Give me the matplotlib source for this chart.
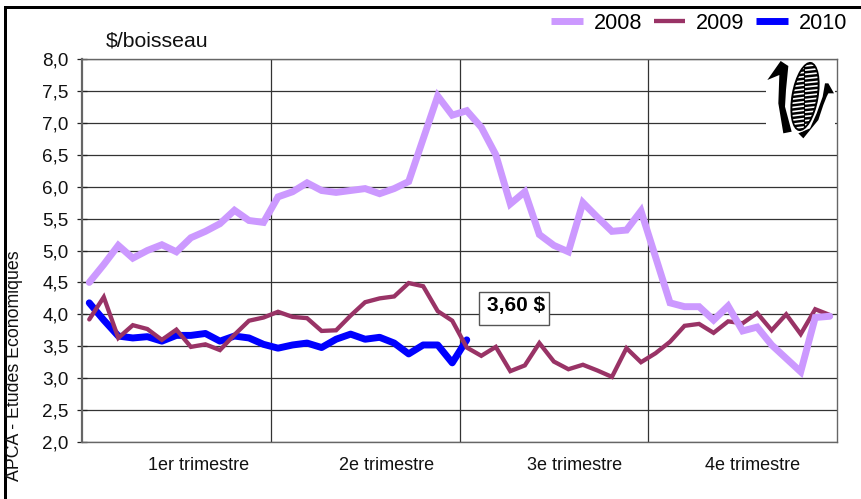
import numpy as np
import matplotlib
matplotlib.use('Agg')
import matplotlib.pyplot as plt
from matplotlib.patches import Ellipse, Polygon, Rectangle

plt.rcParams['font.family'] = ['Liberation Sans', 'DejaVu Sans']

# Weekly prices ($/boisseau)
prix_2008 = [4.50, 4.78, 5.08, 4.88, 5.00, 5.09, 4.98, 5.20, 5.30, 5.42, 5.63, 5.47, 5.44,
             5.84, 5.92, 6.06, 5.94, 5.91, 5.94, 5.97, 5.89, 5.97, 6.08, 6.75, 7.42, 7.12,
             7.19, 6.93, 6.50, 5.73, 5.92, 5.25, 5.08, 4.98, 5.75, 5.52, 5.30, 5.32, 5.62,
             4.90, 4.18, 4.12, 4.12, 3.91, 4.13, 3.74, 3.80, 3.52, 3.31, 3.10, 3.95, 3.97]
prix_2009 = [3.92, 4.27, 3.63, 3.83, 3.77, 3.60, 3.76, 3.49, 3.53, 3.44, 3.68, 3.90, 3.95,
             4.04, 3.96, 3.94, 3.74, 3.75, 3.98, 4.19, 4.25, 4.28, 4.49, 4.44, 4.05, 3.90,
             3.48, 3.35, 3.49, 3.11, 3.20, 3.55, 3.26, 3.14, 3.21, 3.12, 3.02, 3.47, 3.25,
             3.39, 3.57, 3.82, 3.85, 3.71, 3.89, 3.86, 4.02, 3.75, 4.00, 3.69, 4.08, 3.99]
prix_2010 = [4.18, 3.91, 3.66, 3.63, 3.65, 3.58, 3.67, 3.67, 3.70, 3.58, 3.66, 3.63, 3.53,
             3.47, 3.52, 3.55, 3.48, 3.61, 3.69, 3.61, 3.64, 3.55, 3.38, 3.52, 3.52, 3.24,
             3.60]
trimestres = ['1er trimestre', '2e trimestre', '3e trimestre', '4e trimestre']
pos_trimestres = [7.56, 20.45, 33.4, 45.7]
limites_trimestres = [12.5, 25.5, 38.5]
ticks_y = [2.0, 2.5, 3.0, 3.5, 4.0, 4.5, 5.0, 5.5, 6.0, 6.5, 7.0, 7.5, 8.0]

fig = plt.figure(figsize=(8.61, 4.99), dpi=100)
ax = fig.add_axes([82 / 861, (499 - 442) / 499, 755 / 861, 383 / 499])

ax.plot(np.arange(len(prix_2010)), prix_2010, color='#0000ff', lw=5.0, label='2010',
        solid_capstyle='round', solid_joinstyle='round', zorder=3)
ax.plot(np.arange(len(prix_2009)), prix_2009, color='#993366', lw=3.1, label='2009',
        solid_capstyle='round', solid_joinstyle='miter', zorder=4)
ax.plot(np.arange(len(prix_2008)), prix_2008, color='#cc99ff', lw=5.0, label='2008',
        solid_capstyle='round', solid_joinstyle='miter', zorder=5)

ax.set_xlim(-0.5, 51.5)
ax.set_ylim(2, 8)
ax.set_yticks(ticks_y)
ax.set_yticklabels([f'{v:.1f}'.replace('.', ',') for v in ticks_y], fontsize=13.6, color='#111111')
ax.tick_params(axis='y', direction='inout', length=7.5, width=0.9, color='#222222', pad=6)

ax.set_xticks(limites_trimestres)
ax.set_xticklabels([])
ax.tick_params(axis='x', length=0)
ax.set_xticks(pos_trimestres, labels=trimestres, minor=True)
ax.tick_params(axis='x', which='minor', length=0, labelsize=13, pad=10.5, labelcolor='#111111')

ax.grid(True, axis='both', which='major', color='#333333', lw=0.9, zorder=1)
ax.set_axisbelow(True)
for s in ax.spines.values():
    s.set_color('#666666')
    s.set_linewidth(1.0)
ax.spines['left'].set_linewidth(1.6)

# legend in the original order
h, l = ax.get_legend_handles_labels()
leg = fig.legend(h[::-1], l[::-1], ncol=3, loc='upper right', bbox_to_anchor=(847 / 861, 1 - 13 / 499),
                 frameon=False, fontsize=15.6, handlelength=1.47, handletextpad=0.5,
                 columnspacing=0.52, borderpad=0, borderaxespad=0)
for ligne in leg.get_lines():
    ligne.set_solid_capstyle('butt')

# overlay in pixel coordinates: frame, labels, callout and corn logo
ov = fig.add_axes([0, 0, 1, 1], zorder=10)
ov.set_xlim(0, 861)
ov.set_ylim(499, 0)
ov.axis('off')
ov.patch.set_alpha(0)

ov.add_patch(Rectangle((3.5, 6), 3, 493, color='black', lw=0))
ov.add_patch(Rectangle((3.5, 6), 857.5, 2.5, color='black', lw=0))

ov.text(106, 41, '$/boisseau', fontsize=15.3, va='center', ha='left', color='#111111')
ov.text(15, 366, 'APCA - Etudes Economiques', fontsize=12.8, rotation=90, va='center', ha='center',
        color='#111111')

ov.add_patch(Rectangle((478.5, 291.5), 70.5, 33.5, fc='white', ec='#555555', lw=1.0))
ov.text(516, 305, '3,60 $', fontsize=15, fontweight='bold', va='center', ha='center', color='black')

# corn logo
ov.add_patch(Rectangle((766, 61), 69, 79, fc='white', ec='none'))
def pts(liste):
    return [(760 + x / 3, 50 + y / 3) for x, y in liste]
ov.add_patch(Polygon(pts([(22, 90), (62, 33), (85, 48), (78, 120), (75, 170), (95, 245),
                          (70, 250), (55, 160), (58, 75)]), fc='black', ec='none'))
ov.add_patch(Polygon(pts([(195, 100), (205, 100), (222, 130), (205, 130), (200, 140), (190, 165),
                          (175, 210), (130, 265), (115, 250), (150, 235), (170, 190), (188, 140)]),
                     fc='black', ec='none'))
ov.add_patch(Ellipse((805, 96.5), 29, 72, angle=10, fc='white', ec='none'))
ov.add_patch(Ellipse((805, 96.5), 27, 70, angle=10, fc='black', ec='none'))
epi = Ellipse((805, 96.5), 23, 66, angle=10, fc='none', ec='none')
ov.add_patch(epi)
for k in range(16):
    yy = 65 + k * 4.2
    for xa, xb in [(788, 804), (805, 824)]:
        trait, = ov.plot([xa, xb], [yy + 1, yy - 1], color='white', lw=1.2, solid_capstyle='butt')
        trait.set_clip_path(epi)

fig.savefig('out.png', dpi=100)
